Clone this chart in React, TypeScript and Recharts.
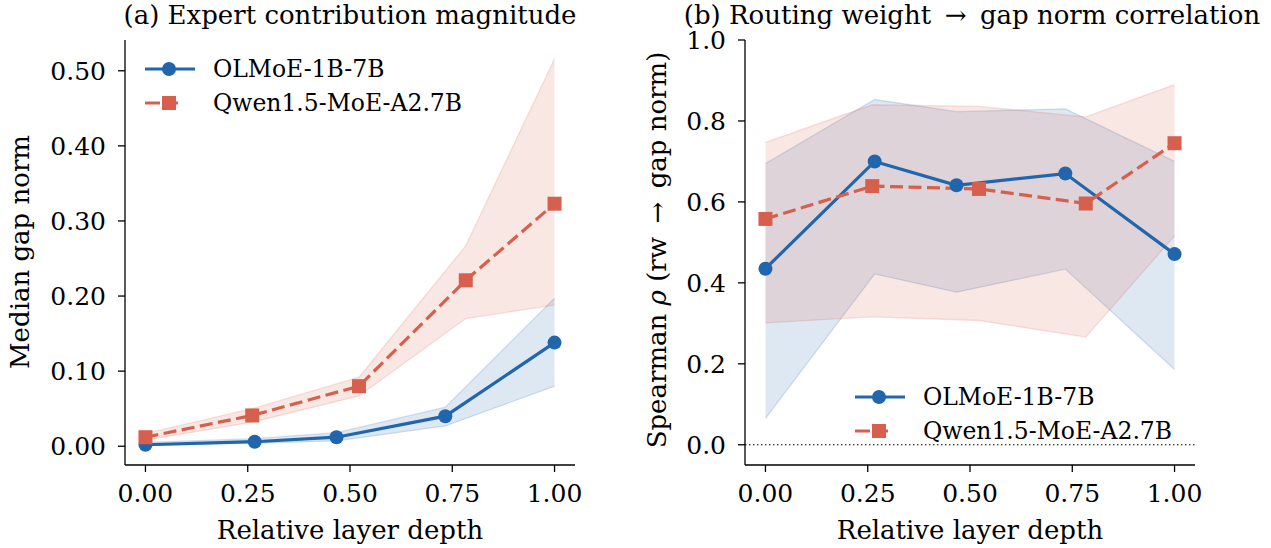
import React from "react";
import { Area, ComposedChart, Line, ReferenceLine, XAxis, YAxis } from "recharts";

const BLUE = "#2166ac";
const RED = "#d6604d";
const FONT = "'DejaVu Serif', serif";

// relative layer depth of the sampled layers
const olmoeDepth = [0, 0.267, 0.467, 0.733, 1.0];
const qwenDepth = [0, 0.261, 0.522, 0.783, 1.0];
const depthTicks = [0, 0.25, 0.5, 0.75, 1.0];

// (a) median gap norm with spread band
const olmoeGap = [0.002, 0.006, 0.012, 0.04, 0.138];
const olmoeGapLow = [0.001, 0.004, 0.007, 0.027, 0.08];
const olmoeGapHigh = [0.005, 0.01, 0.018, 0.052, 0.197];
const qwenGap = [0.012, 0.041, 0.08, 0.221, 0.323];
const qwenGapLow = [0.008, 0.032, 0.067, 0.17, 0.188];
const qwenGapHigh = [0.017, 0.05, 0.092, 0.267, 0.516];
const gapTicks = [0, 0.1, 0.2, 0.3, 0.4, 0.5];

// (b) spearman rho with spread band
const olmoeRho = [0.435, 0.7, 0.641, 0.67, 0.471];
const olmoeRhoLow = [0.065, 0.422, 0.377, 0.434, 0.186];
const olmoeRhoHigh = [0.695, 0.853, 0.823, 0.83, 0.7];
const qwenRho = [0.558, 0.639, 0.632, 0.596, 0.745];
const qwenRhoLow = [0.301, 0.316, 0.307, 0.266, 0.516];
const qwenRhoHigh = [0.747, 0.84, 0.836, 0.81, 0.89];
const rhoTicks = [0, 0.2, 0.4, 0.6, 0.8, 1.0];

const LEGEND = ["OLMoE-1B-7B", "Qwen1.5-MoE-A2.7B"];

type Row = { x: number; y: number; band: [number, number] };

function rows(x: number[], mid: number[], lo: number[], hi: number[]): Row[] {
  return x.map((d, i) => ({ x: d, y: mid[i], band: [lo[i], hi[i]] }));
}

const SquareDot = (props: any) => {
  const { cx, cy, index } = props;
  if (cx == null || cy == null) return <g key={`sq-${index}`} />;
  return <rect key={`sq-${index}`} x={cx - 7} y={cy - 7} width={14} height={14} fill={RED} />;
};

const axisStyle = { stroke: "#000", strokeWidth: 1.3 };
const tickStyle = { fontSize: 25, fill: "#000", fontFamily: FONT };

interface PanelProps {
  left: number;
  yDomain: [number, number];
  yTicks: number[];
  digits: number;
  olmoe: Row[];
  qwen: Row[];
  zeroLine?: boolean;
}

function Panel({ left, yDomain, yTicks, digits, olmoe, qwen, zeroLine }: PanelProps) {
  return (
    <div style={{ position: "absolute", left, top: 0, width: 600, height: 548 }}>
      <ComposedChart width={600} height={548} margin={{ top: 40, right: 25, bottom: 0, left: 0 }}>
        <XAxis
          type="number"
          dataKey="x"
          domain={[-0.05, 1.05]}
          ticks={depthTicks}
          allowDataOverflow
          tickFormatter={(v: number) => v.toFixed(2)}
          height={83}
          axisLine={axisStyle}
          tickLine={axisStyle}
          tickSize={7}
          tickMargin={12}
          tick={tickStyle}
        />
        <YAxis
          type="number"
          domain={yDomain}
          ticks={yTicks}
          allowDataOverflow
          tickFormatter={(v: number) => v.toFixed(digits)}
          width={125}
          axisLine={axisStyle}
          tickLine={axisStyle}
          tickSize={7}
          tickMargin={12}
          tick={tickStyle}
        />
        {zeroLine ? (
          <ReferenceLine y={0} stroke="#000" strokeWidth={1} strokeDasharray="1.5 2.5" />
        ) : null}
        <Area
          data={olmoe}
          dataKey="band"
          type="linear"
          fill={BLUE}
          fillOpacity={0.15}
          stroke={BLUE}
          strokeOpacity={0.18}
          strokeWidth={1.3}
          isAnimationActive={false}
        />
        <Line
          data={olmoe}
          dataKey="y"
          type="linear"
          stroke={BLUE}
          strokeWidth={3.2}
          dot={{ r: 7, fill: BLUE, stroke: BLUE, strokeWidth: 0 }}
          isAnimationActive={false}
        />
        <Area
          data={qwen}
          dataKey="band"
          type="linear"
          fill={RED}
          fillOpacity={0.15}
          stroke={RED}
          strokeOpacity={0.18}
          strokeWidth={1.3}
          isAnimationActive={false}
        />
        <Line
          data={qwen}
          dataKey="y"
          type="linear"
          stroke={RED}
          strokeWidth={3.2}
          strokeDasharray="13 5.5"
          dot={SquareDot}
          isAnimationActive={false}
        />
      </ComposedChart>
    </div>
  );
}

function LegendBox({ x, y }: { x: number; y: number }) {
  return (
    <g>
      <line x1={x} x2={x + 50} y1={y} y2={y} stroke={BLUE} strokeWidth={3.2} />
      <circle cx={x + 24} cy={y} r={7} fill={BLUE} />
      <text x={x + 68} y={y} dominantBaseline="central" fontSize={23.5} fontFamily={FONT} fill="#000">
        {LEGEND[0]}
      </text>
      <line x1={x} x2={x + 50} y1={y + 34} y2={y + 34} stroke={RED} strokeWidth={3.2} strokeDasharray="15 3 0 0 8 4 3 20" />
      <rect x={x + 17} y={y + 27} width={14} height={14} fill={RED} />
      <text x={x + 68} y={y + 34} dominantBaseline="central" fontSize={23.5} fontFamily={FONT} fill="#000">
        {LEGEND[1]}
      </text>
    </g>
  );
}

export default function App() {
  const gapO = rows(olmoeDepth, olmoeGap, olmoeGapLow, olmoeGapHigh);
  const gapQ = rows(qwenDepth, qwenGap, qwenGapLow, qwenGapHigh);
  const rhoO = rows(olmoeDepth, olmoeRho, olmoeRhoLow, olmoeRhoHigh);
  const rhoQ = rows(qwenDepth, qwenRho, qwenRhoLow, qwenRhoHigh);

  return (
    <div style={{ position: "absolute", left: 0, top: 0, width: 1271, height: 548, background: "#fff", overflow: "hidden" }}>
      <Panel left={0} yDomain={[-0.025, 0.541]} yTicks={gapTicks} digits={2} olmoe={gapO} qwen={gapQ} />
      <Panel left={620} yDomain={[-0.05, 1.0]} yTicks={rhoTicks} digits={1} olmoe={rhoO} qwen={rhoQ} zeroLine />
      <svg width={1271} height={548} style={{ position: "absolute", left: 0, top: 0, pointerEvents: "none" }}>
        <g fontFamily={FONT} fill="#000" fontSize={26}>
          <text x={350} y={15} textAnchor="middle" dominantBaseline="central">
            (a) Expert contribution magnitude
          </text>
          <text x={972} y={15} textAnchor="middle" dominantBaseline="central">
            {"(b) Routing weight \u2009→\u2009 gap norm correlation"}
          </text>
          <text x={350} y={539} textAnchor="middle">
            Relative layer depth
          </text>
          <text x={970} y={539} textAnchor="middle">
            Relative layer depth
          </text>
          <text x={20} y={252} textAnchor="middle" dominantBaseline="central" transform="rotate(-90 20 252)">
            Median gap norm
          </text>
          <text x={657} y={250} textAnchor="middle" dominantBaseline="central" transform="rotate(-90 657 250)">
            Spearman <tspan fontStyle="italic">ρ</tspan>
            {" (rw \u2009→\u2009 gap norm)"}
          </text>
        </g>
        <LegendBox x={145} y={69} />
        <LegendBox x={855} y={397} />
      </svg>
    </div>
  );
}
